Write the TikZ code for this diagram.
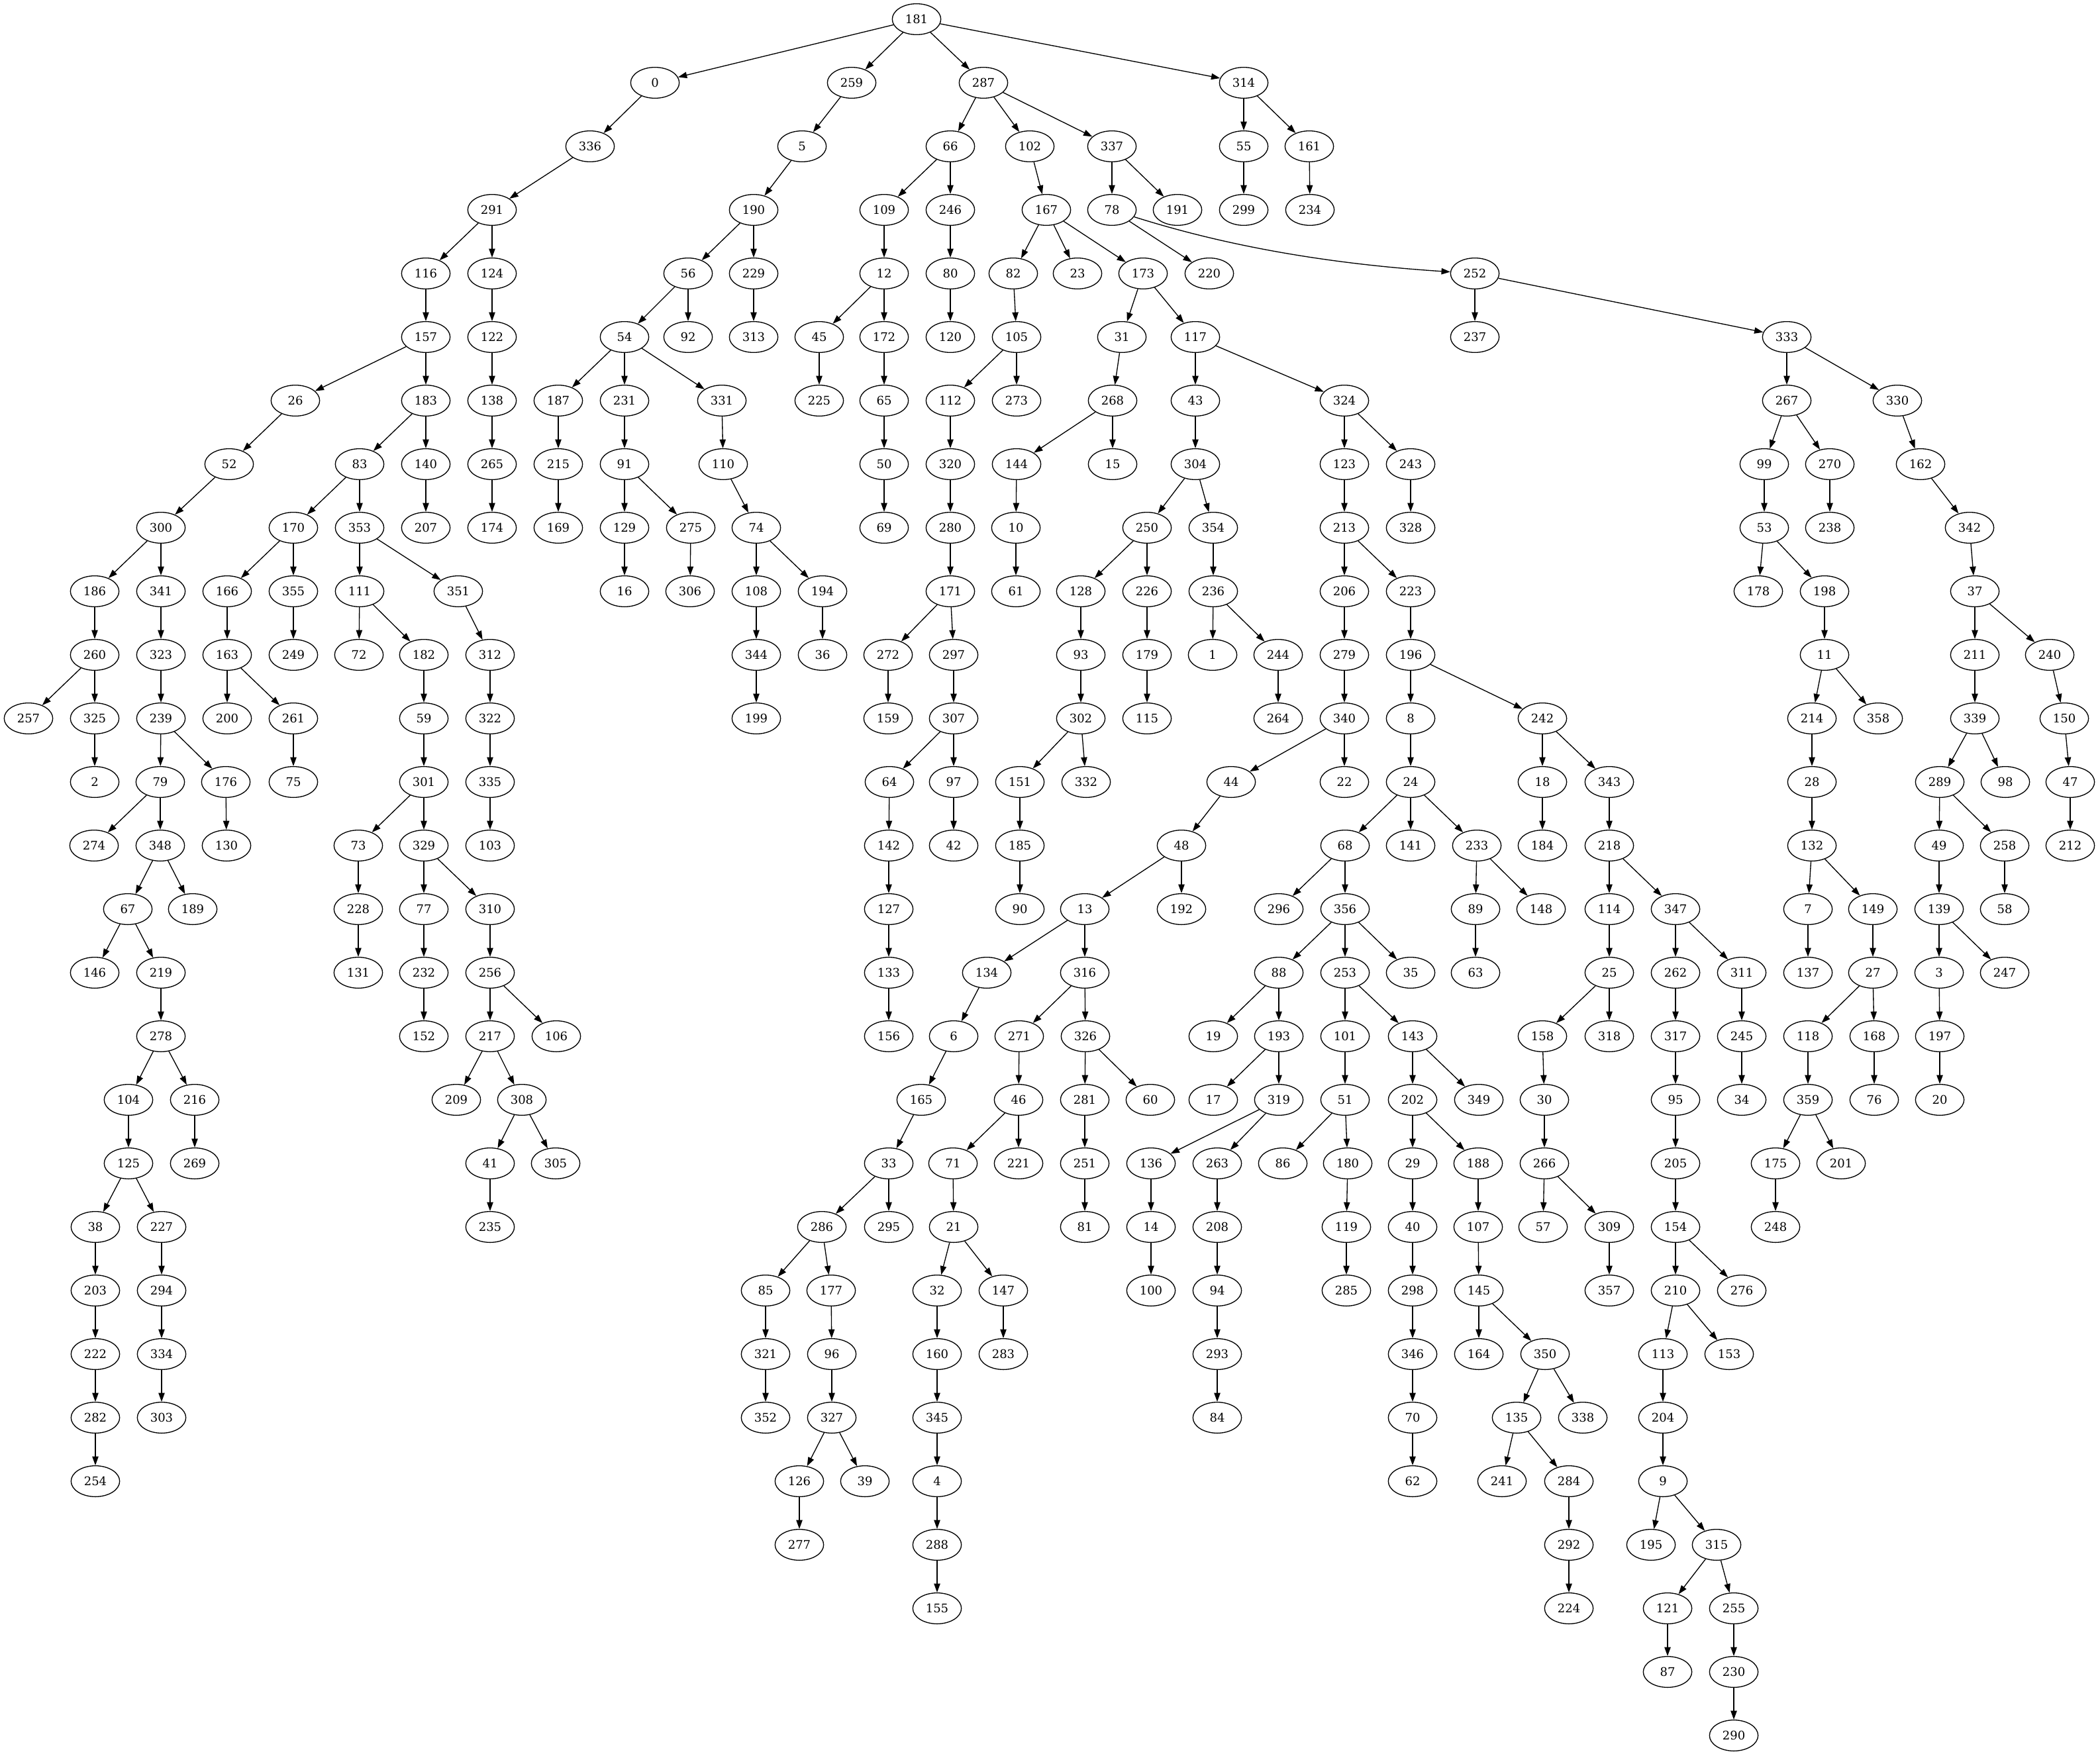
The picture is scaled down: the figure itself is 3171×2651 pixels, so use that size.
\documentclass[tikz,border=0pt]{standalone}
\usepackage{fontspec}
\setmainfont{DejaVu Serif}
\usetikzlibrary{shapes.geometric,arrows.meta}
\newcommand\gvfont{\fontsize{13.5pt}{16pt}\selectfont}
\newcommand\rankrow[2]{\foreach \n/\x in {#2} \node[gv] (n\n) at (\x,{29+96*#1}) {\n};}
\begin{document}
\begin{tikzpicture}[x=0.75pt,y=-0.75pt,
  gv/.style={ellipse,draw,line width=1pt,minimum width=55pt,minimum height=35pt,inner sep=0pt,font=\gvfont},
  edge/.style={-{Triangle[length=10pt,width=7pt]},line width=1pt}]
\useasboundingbox (0,0) rectangle (3171,2651);
\rankrow{0}{181/1384}
\rankrow{1}{0/989,259/1286,287/1485,314/1878}
\rankrow{2}{336/891,5/1211,66/1435,102/1555,337/1679,55/1878,161/1977}
\rankrow{3}{291/743,190/1138,109/1335,246/1435,167/1580,78/1679,191/1778,299/1878,234/1978}
\rankrow{4}{116/643,124/743,56/1039,229/1138,12/1335,80/1435,82/1530,23/1627,173/1726,220/1826,252/2227}
\rankrow{5}{157/643,122/743,54/943,92/1039,313/1138,45/1237,172/1335,120/1435,105/1535,31/1694,117/1805,237/2227,333/2698}
\rankrow{6}{26/446,183/643,138/743,187/843,231/943,331/1090,225/1237,65/1335,112/1435,273/1535,268/1680,43/1805,324/2030,267/2698,330/2865}
\rankrow{7}{52/346,83/543,140/643,265/743,215/843,91/943,110/1092,50/1335,320/1435,144/1535,15/1680,304/1805,123/2030,243/2130,99/2664,270/2763,162/2900}
\rankrow{8}{300/243,170/443,353/543,207/643,174/743,169/843,129/943,275/1043,74/1142,69/1335,280/1435,10/1534,250/1732,354/1832,213/2030,328/2130,53/2664,238/2763,342/2974}
\rankrow{9}{186/143,341/243,166/343,355/443,111/543,351/692,16/943,306/1042,108/1142,194/1242,171/1435,61/1534,128/1632,226/1732,236/1832,206/2030,223/2130,178/2655,198/2755,37/2982}
\rankrow{10}{260/143,323/243,163/343,249/443,72/542,182/640,312/740,344/1142,36/1242,272/1341,297/1440,93/1632,179/1732,1/1831,244/1930,279/2030,196/2130,11/2755,211/2982,240/3095}
\rankrow{11}{257/43,325/143,239/243,200/343,261/443,59/640,322/740,199/1142,159/1341,307/1440,302/1632,115/1732,264/1930,340/2030,8/2130,242/2329,214/2736,358/2836,339/2982,150/3117}
\rankrow{12}{2/143,79/242,176/341,75/443,301/640,335/740,64/1343,97/1440,151/1540,332/1640,44/1859,22/2030,24/2130,18/2329,343/2430,28/2736,289/2929,98/3028,47/3126}
\rankrow{13}{274/142,348/242,130/342,73/541,329/640,103/740,142/1342,42/1440,185/1540,48/1784,68/2031,141/2130,233/2230,184/2329,218/2430,132/2736,49/2928,258/3027,212/3126}
\rankrow{14}{67/193,189/291,228/541,77/640,310/740,127/1342,90/1540,13/1638,192/1784,296/1931,356/2031,89/2228,148/2327,114/2430,347/2530,7/2730,149/2828,139/2928,58/3027}
\rankrow{15}{146/143,219/243,131/541,232/640,256/740,133/1342,134/1490,316/1638,88/1931,253/2031,35/2130,63/2228,25/2430,262/2530,311/2630,137/2730,27/2828,3/2928,247/3027}
\rankrow{16}{278/243,152/640,217/740,106/840,156/1342,6/1440,271/1539,326/1639,19/1832,193/1931,101/2031,143/2133,158/2329,318/2430,317/2530,245/2630,118/2730,168/2830,197/2929}
\rankrow{17}{104/194,216/294,209/689,308/788,165/1391,46/1538,281/1638,60/1737,17/1832,319/1931,51/2031,202/2133,349/2233,30/2332,95/2530,34/2630,359/2730,76/2830,20/2929}
\rankrow{18}{125/194,269/294,41/740,305/839,33/1342,71/1439,221/1538,251/1638,136/1738,263/1838,86/1937,180/2035,29/2133,188/2232,266/2332,205/2530,175/2681,201/2780}
\rankrow{19}{38/144,227/244,235/740,286/1241,295/1342,21/1440,81/1638,14/1738,208/1838,119/2033,40/2133,107/2232,57/2330,309/2430,154/2530,248/2681}
\rankrow{20}{203/144,294/244,85/1156,177/1255,32/1415,147/1515,100/1738,94/1838,285/2033,298/2133,145/2233,357/2430,210/2530,276/2630}
\rankrow{21}{222/144,334/244,321/1156,96/1256,160/1415,283/1515,293/1838,346/2133,164/2233,350/2333,113/2511,153/2611}
\rankrow{22}{282/144,303/244,352/1156,327/1256,345/1415,84/1838,70/2133,135/2290,338/2390,204/2511}
\rankrow{23}{254/144,126/1207,39/1306,4/1415,62/2133,241/2268,284/2369,9/2511}
\rankrow{24}{277/1207,288/1415,292/2369,195/2493,315/2592}
\rankrow{25}{155/1415,224/2369,121/2518,255/2618}
\rankrow{26}{87/2518,230/2618}
\rankrow{27}{290/2618}
\foreach \a/\b in {181/0,181/259,181/287,181/314,
0/336,336/291,291/116,291/124,116/157,124/122,157/26,157/183,122/138,26/52,183/83,183/140,138/265,52/300,83/170,83/353,140/207,265/174,300/186,300/341,170/166,170/355,353/111,353/351,186/260,341/323,166/163,355/249,111/72,111/182,351/312,260/257,260/325,323/239,163/200,163/261,182/59,312/322,325/2,239/79,239/176,261/75,59/301,322/335,79/274,79/348,176/130,301/73,301/329,335/103,348/67,348/189,73/228,329/77,329/310,67/146,67/219,228/131,77/232,310/256,219/278,232/152,256/217,256/106,278/104,278/216,217/209,217/308,104/125,216/269,308/41,308/305,125/38,125/227,41/235,38/203,227/294,203/222,294/334,222/282,334/303,282/254,
259/5,5/190,190/56,190/229,56/54,56/92,229/313,54/187,54/231,54/331,187/215,231/91,331/110,215/169,91/129,91/275,110/74,129/16,275/306,74/108,74/194,108/344,194/36,344/199,
287/66,287/102,287/337,66/109,66/246,102/167,337/78,337/191,109/12,246/80,167/82,167/23,167/173,78/220,12/45,12/172,80/120,82/105,173/31,173/117,252/237,252/333,45/225,172/65,105/112,105/273,31/268,117/43,117/324,333/267,333/330,65/50,112/320,268/144,268/15,43/304,324/123,324/243,267/99,267/270,330/162,50/69,320/280,144/10,304/250,304/354,123/213,243/328,99/53,270/238,162/342,280/171,10/61,250/128,250/226,354/236,213/206,213/223,53/178,53/198,342/37,171/272,171/297,128/93,226/179,236/1,236/244,206/279,223/196,198/11,37/211,37/240,272/159,297/307,93/302,179/115,244/264,279/340,196/8,196/242,11/214,11/358,211/339,240/150,307/64,307/97,302/151,302/332,340/44,340/22,8/24,242/18,242/343,214/28,339/289,339/98,150/47,64/142,97/42,151/185,44/48,24/68,24/141,24/233,18/184,343/218,28/132,289/49,289/258,47/212,142/127,185/90,48/13,48/192,68/296,68/356,233/89,233/148,218/114,218/347,132/7,132/149,49/139,258/58,127/133,13/134,13/316,356/88,356/253,356/35,89/63,114/25,347/262,347/311,7/137,149/27,139/3,139/247,133/156,134/6,316/271,316/326,88/19,88/193,253/101,253/143,25/158,25/318,262/317,311/245,27/118,27/168,3/197,6/165,271/46,326/281,326/60,193/17,193/319,101/51,143/202,143/349,158/30,317/95,245/34,118/359,168/76,197/20,165/33,46/71,46/221,281/251,319/136,319/263,51/86,51/180,202/29,202/188,30/266,95/205,359/175,359/201,33/286,33/295,71/21,251/81,136/14,263/208,180/119,29/40,188/107,266/57,266/309,205/154,175/248,286/85,286/177,21/32,21/147,14/100,208/94,119/285,40/298,107/145,309/357,154/210,154/276,85/321,177/96,32/160,147/283,94/293,298/346,145/164,145/350,210/113,210/153,321/352,96/327,160/345,293/84,346/70,350/135,350/338,113/204,327/126,327/39,345/4,70/62,135/241,135/284,204/9,126/277,4/288,284/292,9/195,9/315,288/155,292/224,315/121,315/255,121/87,255/230,230/290,
314/55,314/161,55/299,161/234}
  \draw[edge] (n\a) -- (n\b);
\draw[edge] (n78) .. controls (1800,355) and (1950,395) .. (n252);
\end{tikzpicture}
\end{document}
